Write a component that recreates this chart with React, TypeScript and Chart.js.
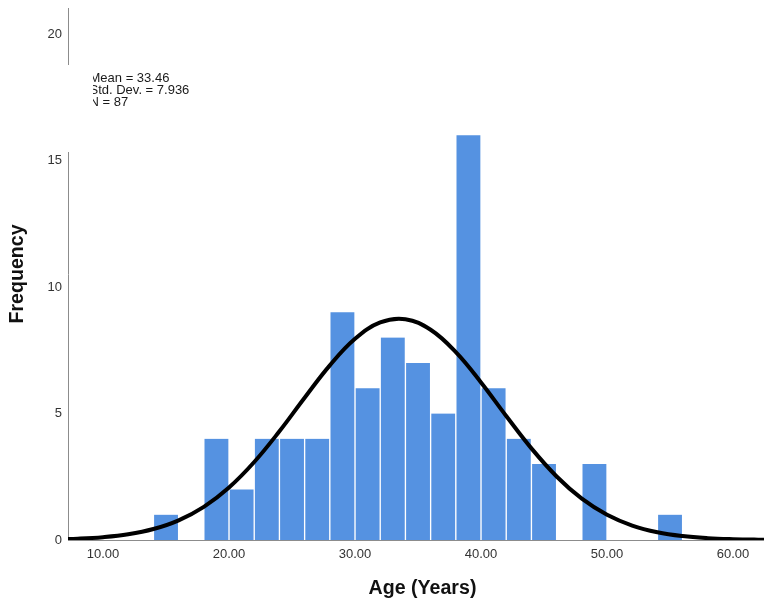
import React, { useEffect, useRef } from 'react';
import { Chart, registerables } from 'chart.js';

Chart.register(...registerables);

// Histogram bins (2-year wide), centers and counts
const binCenters = [15, 17, 19, 21, 23, 25, 27, 29, 31, 33, 35, 37, 39, 41, 43, 45, 47, 49, 51, 53, 55];
const frequencies = [1, 0, 4, 2, 4, 4, 4, 9, 6, 8, 7, 5, 16, 6, 4, 3, 0, 3, 0, 0, 1];

// Normal curve
const curveAges = [6, 8, 10, 12, 14, 16, 18, 20, 22, 24, 26, 28, 30, 32, 34, 36, 38, 40, 42, 44, 46, 48, 50, 52, 54, 56, 58, 60, 62, 64];
const curveFreq = [0.022, 0.051, 0.111, 0.226, 0.433, 0.778, 1.311, 2.076, 3.083, 4.298, 5.623, 6.903, 7.954, 8.6, 8.727, 8.311, 7.427, 6.229, 4.902, 3.621, 2.511, 1.633, 0.997, 0.571, 0.307, 0.155, 0.073, 0.033, 0.014, 0.005];

const xTicks = [10, 20, 30, 40, 50, 60];
const yTicks = [0, 5, 10, 15, 20];
const statsLines = ['Mean = 33.46', 'Std. Dev. = 7.936', 'N = 87'];

const FONT = '"Liberation Sans", Arial, sans-serif';

const statsPlugin = {
  id: 'statsBox',
  afterDraw(chart: any) {
    const ctx = chart.ctx as CanvasRenderingContext2D;
    ctx.save();
    ctx.fillStyle = '#ffffff';
    ctx.fillRect(62, 65, 31, 87);
    ctx.beginPath();
    ctx.rect(93, 60, 220, 60);
    ctx.clip();
    ctx.fillStyle = '#1a1a1a';
    ctx.font = `13px ${FONT}`;
    ctx.textBaseline = 'middle';
    ctx.textAlign = 'left';
    statsLines.forEach((t, i) => ctx.fillText(t, 89.5, 78 + i * 12));
    ctx.restore();
  },
};

export default function App() {
  const ref = useRef<HTMLCanvasElement | null>(null);

  useEffect(() => {
    if (!ref.current) return;
    const chart = new Chart(ref.current, {
      type: 'bar',
      data: {
        datasets: [
          {
            type: 'line',
            data: curveAges.map((x, i) => ({ x, y: curveFreq[i] })),
            borderColor: '#000000',
            borderWidth: 4,
            pointRadius: 0,
            tension: 0.4,
            fill: false,
            order: 0,
          } as any,
          {
            type: 'bar',
            data: binCenters.map((x, i) => ({ x, y: frequencies[i] })),
            backgroundColor: '#5592e1',
            borderColor: '#ffffff',
            borderWidth: { left: 1, right: 1, top: 0, bottom: 0 },
            borderSkipped: false,
            categoryPercentage: 1,
            barPercentage: 1,
            order: 1,
          } as any,
        ],
      },
      options: {
        responsive: false,
        animation: false,
        layout: { padding: { top: 8, left: 0, right: 0, bottom: 0 } },
        plugins: {
          legend: { display: false },
          tooltip: { enabled: false },
        },
        scales: {
          x: {
            type: 'linear',
            min: 7.22,
            max: 63.49,
            offset: false,
            grid: { display: false, drawTicks: false },
            border: { display: true, color: '#8c8c8c', width: 1 },
            afterBuildTicks: (scale: any) => {
              scale.ticks = xTicks.map((v) => ({ value: v }));
            },
            afterFit: (scale: any) => {
              scale.height = 61;
              scale.paddingLeft = 0;
              scale.paddingRight = 0;
            },
            ticks: {
              padding: 7,
              color: '#333333',
              font: { family: FONT, size: 13 },
              maxRotation: 0,
              callback: (v: any) => Number(v).toFixed(2),
            },
            title: {
              display: true,
              text: 'Age (Years)',
              color: '#111111',
              font: { family: FONT, size: 19.6, weight: 'bold' },
              padding: { top: 0, bottom: 1 },
            },
          },
          y: {
            type: 'linear',
            min: 0,
            max: 21.03,
            grid: { display: false, drawTicks: false },
            border: { display: true, color: '#8c8c8c', width: 1 },
            afterBuildTicks: (scale: any) => {
              scale.ticks = yTicks.map((v) => ({ value: v }));
            },
            afterFit: (scale: any) => {
              scale.width = 68;
              scale.paddingTop = 0;
              scale.paddingBottom = 0;
            },
            ticks: {
              padding: 6,
              color: '#333333',
              font: { family: FONT, size: 13 },
            },
            title: {
              display: true,
              text: 'Frequency',
              color: '#111111',
              font: { family: FONT, size: 19.6, weight: 'bold' },
              padding: { top: 6, bottom: 0 },
            },
          },
        },
      } as any,
      plugins: [statsPlugin],
    });
    return () => chart.destroy();
  }, []);

  return (
    <div style={{ position: 'fixed', left: 0, top: 0, width: 764, height: 601, overflow: 'hidden', background: '#fff' }}>
      <canvas ref={ref} width={777} height={601} style={{ display: 'block', width: 777, height: 601 }} />
    </div>
  );
}
